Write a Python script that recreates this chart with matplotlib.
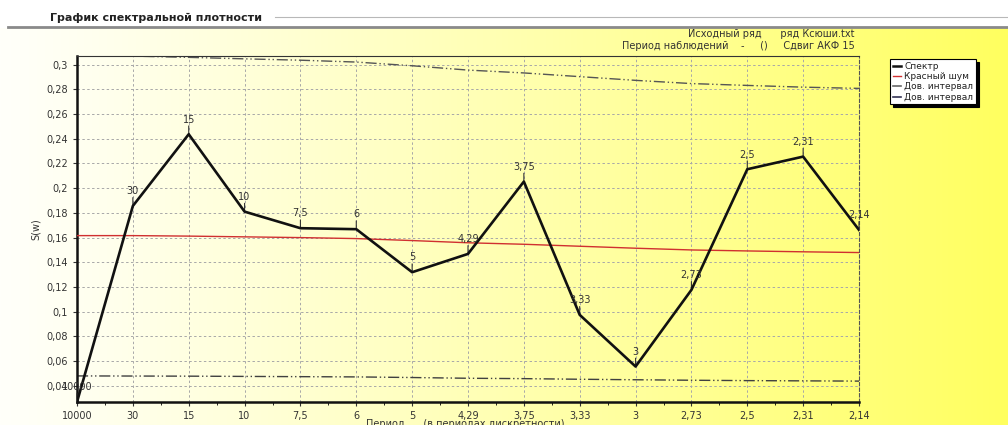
import numpy as np
import matplotlib
matplotlib.use("Agg")
import matplotlib.pyplot as plt
from matplotlib.lines import Line2D

# Periods (categorical x axis) and spectral estimates
periods = ["10000", "30", "15", "10", "7,5", "6", "5", "4,29", "3,75",
           "3,33", "3", "2,73", "2,5", "2,31", "2,14"]
spectrum = [0.027, 0.1856, 0.2436, 0.181, 0.1676, 0.1668, 0.132, 0.1468,
            0.2053, 0.0975, 0.0557, 0.1177, 0.2153, 0.2255, 0.1662]
red_noise = [0.1616, 0.1616, 0.1612, 0.1606, 0.1600, 0.1592, 0.1576, 0.1558,
             0.1546, 0.1530, 0.1514, 0.1500, 0.1492, 0.1485, 0.1479]
conf_upper = [0.3110, 0.3068, 0.3058, 0.3046, 0.3035, 0.3020, 0.2990, 0.2955,
              0.2932, 0.2902, 0.2872, 0.2846, 0.2831, 0.2817, 0.2807]
conf_lower = [0.0481, 0.0480, 0.0479, 0.0477, 0.0475, 0.0473, 0.0468, 0.0462,
              0.0459, 0.0454, 0.0450, 0.0446, 0.0443, 0.0441, 0.0439]
y_ticks = [0.04, 0.06, 0.08, 0.10, 0.12, 0.14, 0.16, 0.18, 0.20, 0.22,
           0.24, 0.26, 0.28, 0.30]

W, H = 1008, 425
fig = plt.figure(figsize=(W / 100, H / 100), dpi=100)
fig.patch.set_facecolor("white")

# Background: white header strip, then a white-to-yellow horizontal gradient
bg = fig.add_axes([0, 0, 1, 1 - 28 / H], zorder=-10)
t = np.linspace(0, 1, 512)
blue = 250 - 155 * t ** 1.1
grad = np.zeros((2, 512, 3))
grad[..., 0] = 1.0
grad[..., 1] = 1.0
grad[..., 2] = blue / 255
bg.imshow(grad, aspect="auto", extent=[0, 1, 0, 1])
bg.set_axis_off()

# Header with title and rules
fig.text(50 / W, 1 - 18 / H, "График спектральной плотности", fontsize=8,
         fontweight="bold", ha="left", va="center", color="#222222")
fig.add_artist(Line2D([275 / W, 1.0], [1 - 17 / H] * 2, color="#b8b8b8", lw=0.8))
fig.add_artist(Line2D([8 / W, 1.0], [1 - 27 / H] * 2, color="#8a8a8a", lw=2.0))

# Info lines top right
fig.text(855 / W, 1 - 34 / H, "Исходный ряд      ряд Ксюши.txt", fontsize=7,
         ha="right", va="center", color="#333333")
fig.text(855 / W, 1 - 46 / H, "Период наблюдений    -     ()     Сдвиг АКФ 15",
         fontsize=7, ha="right", va="center", color="#333333")

ax = fig.add_axes([77 / W, 1 - 402 / H, (859 - 77) / W, (402 - 56) / H])
ax.patch.set_alpha(0)
x = np.arange(len(periods))

ax.plot(x, conf_upper, color="#555555", lw=1.0, ls=(0, (8, 2, 1, 2, 1, 2)),
        label="Дов. интервал", zorder=2)
ax.plot(x, conf_lower, color="#404040", lw=1.0, ls=(0, (8, 2, 1, 2, 1, 2)),
        label="Дов. интервал ", zorder=2)
ax.plot(x, red_noise, color="#d03030", lw=1.0, label="Красный шум", zorder=3)
ax.plot(x, spectrum, color="#111111", lw=1.9, label="Спектр", zorder=4)

# Period labels with a short stem above each spectral point
for xi, yi, lab in zip(x, spectrum, periods):
    ax.annotate("", xy=(xi, yi), xytext=(0, 6), textcoords="offset points",
                arrowprops=dict(arrowstyle="-", lw=0.8, color="#333333",
                                shrinkA=0, shrinkB=0),
                annotation_clip=False)
    ax.annotate(lab, xy=(xi, yi), xytext=(0, 7), textcoords="offset points",
                ha="center", va="bottom", fontsize=7, color="#333333",
                annotation_clip=False, zorder=5)

ax.set_xlim(0, len(periods) - 1)
ax.set_ylim(0.027, 0.3069)
ax.set_xticks(x)
ax.set_xticklabels(periods)
ax.set_xticks(np.arange(0.5, len(periods) - 1, 1.0), minor=True)
ax.set_yticks(y_ticks)
ax.set_yticklabels([("%.2f" % v).rstrip("0").replace(".", ",") for v in y_ticks])
ax.tick_params(axis="both", labelsize=7, colors="#333333", length=3, width=0.8)
ax.tick_params(axis="x", which="minor", length=2, width=0.6)
ax.grid(True, color="#a8a8a8", ls=(0, (2.5, 2.5)), lw=0.7)

for side in ("left", "bottom"):
    ax.spines[side].set_linewidth(1.8)
    ax.spines[side].set_color("#111111")
ax.spines["top"].set_linewidth(0.8)
ax.spines["top"].set_color("#333333")
ax.spines["right"].set_linewidth(0.8)
ax.spines["right"].set_color("#555555")
ax.spines["right"].set_linestyle((0, (3, 2)))

ax.set_ylabel("S(w)", fontsize=7, color="#333333", labelpad=4)
fig.text(465 / W, 1 - 419 / H, "Период      (в периодах дискретности)",
         fontsize=7, ha="center", va="top", color="#333333")

# Legend box with shadow
handles = [
    Line2D([], [], color="#111111", lw=1.8),
    Line2D([], [], color="#d03030", lw=1.0),
    Line2D([], [], color="#666666", lw=1.2),
    Line2D([], [], color="#333355", lw=1.2),
]
labels = ["Спектр", "Красный шум", "Дов. интервал", "Дов. интервал"]
leg = fig.legend(handles, labels, loc="upper left",
                 bbox_to_anchor=(890 / W, 1 - 59 / H), fontsize=6.5,
                 frameon=True, fancybox=False, shadow={"color": "black", "alpha": 1},
                 handlelength=0.9, handletextpad=0.4, borderpad=0.3,
                 labelspacing=0.15, borderaxespad=0)
leg.get_frame().set_edgecolor("black")
leg.get_frame().set_linewidth(0.8)
leg.get_frame().set_facecolor("white")
for txt in leg.get_texts():
    txt.set_color("#222222")

fig.savefig("out.png", dpi=100)
